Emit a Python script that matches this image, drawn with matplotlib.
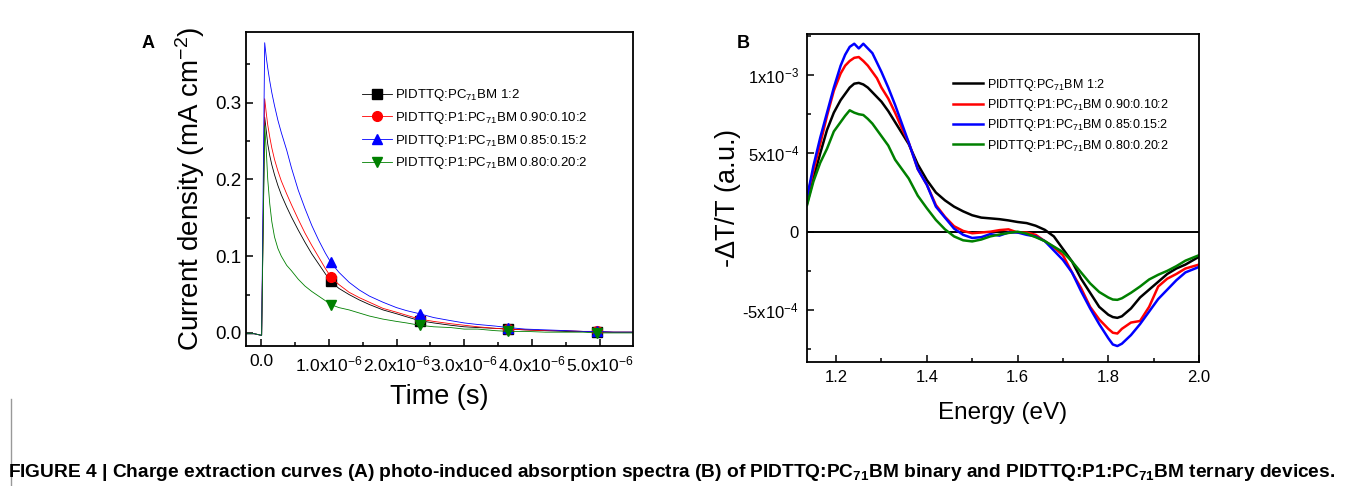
"""Charge extraction curves and photo-induced absorption spectra (two panels)."""

import matplotlib

matplotlib.use("Agg")
import numpy as np
from matplotlib import pyplot as plt
from matplotlib.lines import Line2D
from matplotlib.ticker import MultipleLocator

plt.rcParams["font.family"] = ["Liberation Sans", "DejaVu Sans"]
plt.rcParams["mathtext.fontset"] = "custom"
plt.rcParams["mathtext.rm"] = "Liberation Sans"
plt.rcParams["mathtext.it"] = "Liberation Sans:italic"
plt.rcParams["mathtext.bf"] = "Liberation Sans:bold"
plt.rcParams["axes.unicode_minus"] = False

LABELS = [
    r"PIDTTQ:PC$_{71}$BM 1:2",
    r"PIDTTQ:P1:PC$_{71}$BM 0.90:0.10:2",
    r"PIDTTQ:P1:PC$_{71}$BM 0.85:0.15:2",
    r"PIDTTQ:P1:PC$_{71}$BM 0.80:0.20:2",
]
COLORS = ["#000000", "#ff0000", "#0000ff", "#008000"]
MARKERS = ["s", "o", "^", "v"]

# ---- panel A: charge extraction (time in s, current in mA cm-2) ----
TIME = np.array([
    -0.22, -0.1, 0.0, 0.01, 0.055, 0.08, 0.1, 0.13, 0.16, 0.2, 0.25, 0.3,
    0.38, 0.45, 0.55, 0.65, 0.75, 0.85, 0.95, 1.03, 1.15, 1.3, 1.45, 1.6,
    1.8, 2.0, 2.15, 2.34, 2.55, 2.8, 3.0, 3.2, 3.45, 3.65, 3.9, 4.2, 4.5,
    4.75, 4.96, 5.2, 5.49,
]) * 1e-6
J_BLACK = [
    -0.001, -0.001, -0.003, -0.003, 0.281, 0.262, 0.246, 0.231, 0.219, 0.206,
    0.192, 0.180, 0.164, 0.151, 0.134, 0.118, 0.103, 0.090, 0.077, 0.067,
    0.058, 0.050, 0.043, 0.037, 0.030, 0.025, 0.021, 0.016, 0.013, 0.010,
    0.008, 0.007, 0.006, 0.005, 0.004, 0.003, 0.002, 0.002, 0.001, 0.001,
    0.001,
]
J_RED = [
    -0.001, -0.001, -0.003, -0.003, 0.305, 0.285, 0.271, 0.255, 0.241, 0.226,
    0.211, 0.198, 0.181, 0.167, 0.148, 0.130, 0.114, 0.099, 0.084, 0.073,
    0.063, 0.053, 0.046, 0.040, 0.032, 0.027, 0.023, 0.018, 0.015, 0.012,
    0.010, 0.008, 0.006, 0.005, 0.004, 0.003, 0.003, 0.002, 0.002, 0.001,
    0.001,
]
J_BLUE = [
    -0.001, -0.001, -0.003, -0.003, 0.378, 0.358, 0.345, 0.328, 0.313, 0.296,
    0.277, 0.261, 0.238, 0.215, 0.186, 0.162, 0.140, 0.121, 0.104, 0.092,
    0.079, 0.066, 0.056, 0.048, 0.040, 0.033, 0.029, 0.025, 0.020, 0.016,
    0.013, 0.011, 0.009, 0.007, 0.005, 0.004, 0.003, 0.002, 0.002, 0.001,
    0.001,
]
J_GREEN = [
    -0.001, -0.001, -0.003, -0.003, 0.270, 0.235, 0.200, 0.168, 0.145, 0.125,
    0.110, 0.100, 0.088, 0.081, 0.070, 0.061, 0.054, 0.048, 0.042, 0.037,
    0.033, 0.030, 0.026, 0.022, 0.018, 0.015, 0.013, 0.010, 0.008, 0.007,
    0.005, 0.005, 0.003, 0.002, 0.002, 0.001, 0.001, 0.001, 0.000, 0.000,
    0.000,
]
MARK_IDX = [19, 27, 33, 38]
A_XTICKS = [0, 1e-6, 2e-6, 3e-6, 4e-6, 5e-6]
A_XTICKLABELS = ["0.0"] + [rf"{v}.0x10$^{{-6}}$" for v in range(1, 6)]
A_YTICKS = [0.0, 0.1, 0.2, 0.3]

# ---- panel B: photo-induced absorption (energy in eV, -dT/T in 1e-4) ----
ENERGY = [
    1.136, 1.15, 1.165, 1.18, 1.195, 1.21, 1.22, 1.23, 1.24, 1.25, 1.26,
    1.27, 1.28, 1.29, 1.30, 1.315, 1.33, 1.345, 1.36, 1.38, 1.40, 1.42,
    1.44, 1.46, 1.48, 1.50, 1.52, 1.54, 1.56, 1.58, 1.60, 1.62, 1.64, 1.66,
    1.68, 1.70, 1.72, 1.74, 1.76, 1.78, 1.80, 1.81, 1.82, 1.83, 1.85, 1.87,
    1.89, 1.91, 1.93, 1.95, 1.97, 2.0,
]
PIA_BLACK = [
    1.8, 3.4, 5.0, 6.5, 7.6, 8.4, 8.8, 9.2, 9.45, 9.5, 9.4, 9.2, 8.9, 8.6,
    8.3, 7.7, 7.0, 6.3, 5.6, 4.3, 3.3, 2.5, 2.0, 1.6, 1.3, 1.05, 0.9, 0.85,
    0.8, 0.72, 0.62, 0.55, 0.38, 0.12, -0.3, -1.1, -1.9, -3.0, -3.9, -4.8,
    -5.3, -5.45, -5.5, -5.4, -4.9, -4.2, -3.7, -3.2, -2.7, -2.35, -2.1, -1.6,
]
PIA_RED = [
    2.2, 3.9, 5.6, 7.4, 9.0, 10.1, 10.6, 10.9, 11.1, 11.15, 10.9, 10.6,
    10.2, 9.8, 9.2, 8.5, 7.6, 6.6, 5.7, 4.0, 3.0, 1.7, 0.95, 0.35, 0.05,
    -0.1, -0.05, 0.0, 0.1, 0.15, -0.05, -0.05, -0.2, -0.6, -1.0, -1.5, -2.6,
    -3.6, -4.8, -5.6, -6.2, -6.45, -6.5, -6.2, -5.8, -5.7, -4.8, -3.5, -3.0,
    -2.7, -2.35, -2.1,
]
PIA_BLUE = [
    2.2, 4.2, 6.0, 7.6, 9.2, 10.6, 11.3, 11.8, 12.0, 11.7, 12.0, 11.7, 11.4,
    10.8, 10.2, 9.2, 8.1, 6.9, 5.7, 4.0, 3.0, 1.6, 0.9, 0.2, -0.2, -0.4,
    -0.35, -0.15, -0.25, -0.05, -0.05, -0.2, -0.3, -0.6, -1.2, -1.8, -2.6,
    -3.8, -4.9, -5.9, -6.8, -7.2, -7.3, -7.15, -6.6, -5.9, -5.1, -4.3, -3.7,
    -3.1, -2.6, -2.25,
]
PIA_GREEN = [
    1.7, 3.2, 4.4, 5.3, 6.4, 7.0, 7.4, 7.75, 7.6, 7.5, 7.45, 7.2, 6.9, 6.5,
    6.1, 5.5, 4.6, 4.0, 3.4, 2.3, 1.5, 0.75, 0.15, -0.3, -0.55, -0.62, -0.5,
    -0.3, -0.18, -0.08, 0.0, -0.12, -0.35, -0.6, -0.95, -1.3, -1.9, -2.6,
    -3.3, -3.85, -4.2, -4.33, -4.35, -4.25, -3.9, -3.5, -3.05, -2.75, -2.5,
    -2.2, -1.85, -1.5,
]
B_YTICKS = [-5e-4, 0, 5e-4, 1e-3]
B_YTICKLABELS = [r"-5x10$^{-4}$", "0", r"5x10$^{-4}$", r"1x10$^{-3}$"]

CAPTION = (
    r"FIGURE 4 | Charge extraction curves (A) photo-induced absorption spectra"
    r" (B) of PIDTTQ:PC$_{\mathbf{71}}$BM binary and"
    r" PIDTTQ:P1:PC$_{\mathbf{71}}$BM ternary devices."
)


def _style_axes(ax):
    for spine in ax.spines.values():
        spine.set_linewidth(1.3)
    ax.tick_params(which="both", direction="in", top=False, right=False,
                   width=1.1)
    ax.tick_params(which="major", length=5)
    ax.tick_params(which="minor", length=3)


def plot_extraction(ax):
    for y, color, marker, label in zip(
        [J_BLACK, J_RED, J_BLUE, J_GREEN], COLORS, MARKERS, LABELS
    ):
        ax.plot(TIME, y, color=color, lw=0.6, marker=marker, markersize=7,
                markevery=MARK_IDX, label=label)
    ax.set_xlim(-0.22e-6, 5.49e-6)
    ax.set_ylim(-0.017, 0.392)
    ax.set_xticks(A_XTICKS, labels=A_XTICKLABELS)
    ax.set_yticks(A_YTICKS, labels=[f"{v:.1f}" for v in A_YTICKS])
    ax.xaxis.set_minor_locator(MultipleLocator(0.5e-6))
    ax.yaxis.set_minor_locator(MultipleLocator(0.05))
    _style_axes(ax)
    ax.tick_params(axis="x", labelsize=12.5, pad=6)
    ax.tick_params(axis="y", labelsize=13.5)
    ax.set_xlabel("Time (s)", fontsize=19.5, labelpad=7)
    ax.set_ylabel(r"Current density (mA cm$^{-2}$)", fontsize=20, labelpad=6)
    ax.legend(loc="upper left", bbox_to_anchor=(0.285, 0.84), frameon=False,
              fontsize=9.5, handlelength=2.3, handletextpad=0.25,
              labelspacing=0.5, borderaxespad=0)


def plot_absorption(ax):
    ax.axhline(0, color="k", lw=1.4, zorder=1)
    energy = np.array(ENERGY)
    for y, color, label in zip(
        [PIA_BLACK, PIA_RED, PIA_BLUE, PIA_GREEN], COLORS, LABELS
    ):
        ax.plot(energy, np.array(y) * 1e-4, color=color, lw=1.8, label=label,
                zorder=2)
    ax.set_xlim(1.136, 2.0)
    ax.set_ylim(-8.32e-4, 1.262e-3)
    ax.xaxis.set_major_locator(MultipleLocator(0.2))
    ax.xaxis.set_minor_locator(MultipleLocator(0.1))
    ax.set_yticks(B_YTICKS, labels=B_YTICKLABELS)
    ax.yaxis.set_minor_locator(MultipleLocator(2.5e-4))
    _style_axes(ax)
    ax.tick_params(axis="both", labelsize=12, pad=6)
    ax.set_xlabel("Energy (eV)", fontsize=17.5, labelpad=12)
    ax.set_ylabel(r"-$\Delta$T/T (a.u.)", fontsize=19.5, labelpad=-1)
    ax.legend(loc="upper left", bbox_to_anchor=(0.36, 0.885), frameon=False,
              fontsize=9, handlelength=2.4, handletextpad=0.3,
              labelspacing=0.35, borderaxespad=0)


if __name__ == "__main__":
    fig = plt.figure(figsize=(13.46, 4.86), dpi=100)
    ax_a = fig.add_axes([0.1828, 0.2881, 0.2875, 0.6461])
    ax_b = fig.add_axes([0.5996, 0.2551, 0.2912, 0.6749])
    plot_extraction(ax_a)
    plot_absorption(ax_b)

    fig.text(148 / 1346, 1 - 43 / 486, "A", fontsize=13, fontweight="bold",
             ha="center", va="center")
    fig.text(743 / 1346, 1 - 43 / 486, "B", fontsize=13, fontweight="bold",
             ha="center", va="center")
    fig.text(8 / 1346, 1 - 472 / 486, CAPTION, fontsize=13.8,
             fontweight="bold", ha="left", va="center")
    fig.add_artist(Line2D([11 / 1346, 11 / 1346], [0, 0.18], color="#999999",
                          lw=1, transform=fig.transFigure))

    fig.savefig("out.png", dpi=100)
